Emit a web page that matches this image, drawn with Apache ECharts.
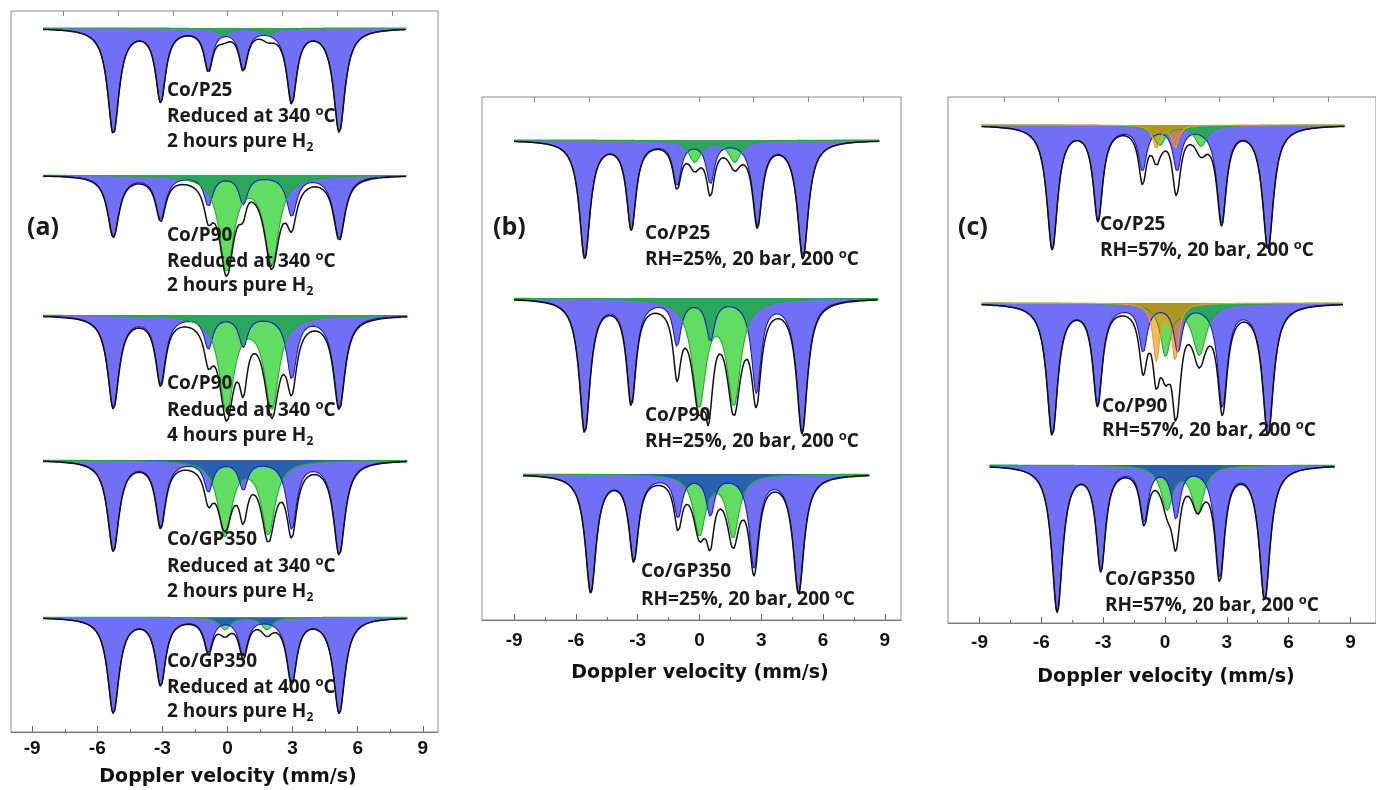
<!DOCTYPE html>
<html>
<head>
<meta charset="utf-8">
<script src="https://cdn.jsdelivr.net/npm/echarts@6/dist/echarts.min.js"></script>
<style>
html, body { margin: 0; padding: 0; background: #fff; }
#chart { width: 1376px; height: 790px; }
</style>
</head>
<body>
<div id="chart"></div>
<script>
// ---- values ----
// every absorption line is [velocity mm/s, depth (counts), half width mm/s]
var velocityTicks = [-9, -6, -3, 0, 3, 6, 9];
var minorTicks = [-7.5, -4.5, -1.5, 1.5, 4.5, 7.5];
var topTicksA = [-7.57, -5.05, -2.52, 0, 2.52, 5.05, 7.57];
var topTicksB = [-8, -5.33, 0, 2.63, 5.3, 7.95];
var topTicksC = [-7.82, -5.18, 0, 2.63, 5.24, 7.92];

// panel (a)
var a1Range = [-8.5, 8.25];
var a1Sextet = [[-5.26, 105, 0.32], [-3.08, 72, 0.28], [-0.88, 40, 0.24], [0.73, 39, 0.24], [2.96, 73, 0.28], [5.15, 103, 0.32]];
var a1Doublet = [[-0.19, 7, 0.35], [1.88, 7, 0.35]];
var a1Residual = [];

var a2Range = [-8.5, 8.25];
var a2Sextet = [[-5.26, 61, 0.32], [-3.08, 43, 0.28], [-0.88, 30, 0.24], [0.73, 28, 0.24], [2.96, 40, 0.28], [5.15, 63, 0.32]];
var a2Doublet = [[-0.04, 94, 0.4], [2.04, 87, 0.4]];
var a2Residual = [[0.85, -12, 0.3]];

var a3Range = [-8.5, 8.3];
var a3Sextet = [[-5.26, 92, 0.32], [-3.08, 67, 0.28], [-0.88, 32, 0.24], [0.73, 30, 0.24], [2.96, 62, 0.28], [5.15, 92, 0.32]];
var a3Doublet = [[-0.04, 95, 0.4], [2.04, 92, 0.4]];
var a3Residual = [[0.73, 22, 0.2]];

var a4Range = [-8.5, 8.3];
var a4Sextet = [[-5.26, 90, 0.32], [-3.08, 65, 0.28], [-0.88, 30, 0.24], [0.73, 28, 0.24], [2.96, 67, 0.28], [5.15, 93, 0.32]];
var a4Doublet = [[-0.12, 75, 0.38], [1.88, 73, 0.38]];
var a4Residual = [[-0.12, -13, 0.3], [0.73, 16, 0.22]];

var a5Range = [-8.5, 8.3];
var a5Sextet = [[-5.26, 99, 0.32], [-3.08, 69, 0.28], [-0.88, 34, 0.24], [0.73, 39, 0.24], [2.96, 67, 0.28], [5.15, 99, 0.32]];
var a5Doublet = [[-0.12, 13, 0.3], [1.82, 13, 0.3]];
var a5Residual = [];

// panel (b)
var b1Range = [-9.0, 8.75];
var b1Sextet = [[-5.57, 117, 0.32], [-3.31, 87, 0.28], [-1.09, 43, 0.24], [0.53, 41, 0.24], [2.81, 83, 0.28], [5.02, 117, 0.32]];
var b1Doublet = [[-0.23, 22, 0.35], [1.71, 22, 0.35]];
var b1Residual = [[0.53, 7, 0.2]];

var b2Range = [-9.0, 8.67];
var b2Sextet = [[-5.57, 133, 0.32], [-3.31, 103, 0.28], [-1.09, 45, 0.24], [0.53, 40, 0.24], [2.76, 92, 0.28], [4.98, 132, 0.32]];
var b2Doublet = [[-0.02, 105, 0.4], [1.67, 103, 0.4]];
var b2Residual = [[-1.09, 20, 0.2], [0.42, 36, 0.15], [-0.02, -8, 0.3]];

var b3Range = [-8.57, 8.26];
var b3Sextet = [[-5.28, 117, 0.32], [-3.19, 84, 0.28], [-1.04, 41, 0.24], [0.53, 39, 0.24], [2.65, 91, 0.28], [4.81, 117, 0.32]];
var b3Doublet = [[0.0, 60, 0.35], [1.63, 62, 0.35]];
var b3Residual = [[-1.04, 6, 0.2], [0.5, 12, 0.2], [0.0, -8, 0.3]];

// panel (c)
var c1Range = [-8.9, 8.72];
var c1Sextet = [[-5.47, 123, 0.32], [-3.25, 93, 0.28], [-1.09, 43, 0.24], [0.59, 43, 0.24], [2.75, 95, 0.28], [5.0, 123, 0.32]];
var c1Doublet = [[-0.26, 20, 0.35], [1.75, 21, 0.35]];
var c1Orange = [[-0.42, 23, 0.2], [0.5, 22, 0.2]];
var c1Residual = [[-0.3, -12, 0.3], [-1.09, 9, 0.2]];

var c2Range = [-8.9, 8.64];
var c2Sextet = [[-5.47, 131, 0.32], [-3.27, 99, 0.28], [-1.06, 46, 0.24], [0.63, 46, 0.24], [2.79, 102, 0.28], [5.0, 131, 0.32]];
var c2Doublet = [[0.03, 51, 0.3], [1.67, 51, 0.4]];
var c2Orange = [[-0.42, 56, 0.2], [0.5, 56, 0.2]];
var c2Residual = [[-1.06, 12, 0.2]];

var c3Range = [-8.51, 8.24];
var c3Sextet = [[-5.23, 145, 0.32], [-3.11, 102, 0.28], [-1.01, 53, 0.24], [0.54, 50, 0.24], [2.66, 110, 0.28], [4.84, 133, 0.32]];
var c3Doublet = [[0.1, 43, 0.35], [1.59, 47, 0.35]];
var c3Residual = [[0.5, 14, 0.2], [0.05, -10, 0.3], [1.6, -12, 0.35]];

// ---- layout ----
var panels = [
    {left: 11, top: 11, width: 427, height: 721, zero: 227.5, scale: 21.7, margin: 7, topTicks: topTicksA},
    {left: 482, top: 97, width: 419, height: 523, zero: 699.5, scale: 20.6, margin: 11, topTicks: topTicksB},
    {left: 948, top: 97, width: 432, height: 526, zero: 1167, scale: 20.8, margin: 10, topTicks: topTicksC}
];

var spectra = [
    {panel: 0, base: 28, range: a1Range, layers: [['sextet', a1Sextet], ['doublet', a1Doublet]], residual: a1Residual},
    {panel: 0, base: 175, range: a2Range, layers: [['sextet', a2Sextet], ['doublet', a2Doublet]], residual: a2Residual},
    {panel: 0, base: 315, range: a3Range, layers: [['sextet', a3Sextet], ['doublet', a3Doublet]], residual: a3Residual},
    {panel: 0, base: 460, range: a4Range, layers: [['doublet', a4Doublet], ['sextet', a4Sextet]], residual: a4Residual},
    {panel: 0, base: 618, range: a5Range, layers: [['doublet', a5Doublet], ['sextet', a5Sextet]], residual: a5Residual},
    {panel: 1, base: 140, range: b1Range, layers: [['sextet', b1Sextet], ['doublet', b1Doublet]], residual: b1Residual},
    {panel: 1, base: 298, range: b2Range, layers: [['sextet', b2Sextet], ['doublet', b2Doublet]], residual: b2Residual},
    {panel: 1, base: 474, range: b3Range, layers: [['doublet', b3Doublet], ['sextet', b3Sextet]], residual: b3Residual},
    {panel: 2, base: 125, range: c1Range, layers: [['sextet', c1Sextet], ['doublet', c1Doublet], ['orange', c1Orange]], residual: c1Residual},
    {panel: 2, base: 303, range: c2Range, layers: [['sextet', c2Sextet], ['doublet', c2Doublet], ['orange', c2Orange]], residual: c2Residual},
    {panel: 2, base: 465, range: c3Range, layers: [['doublet', c3Doublet], ['sextet', c3Sextet]], residual: c3Residual}
];

var notes = [
    {x: 167, y: [91, 116.5, 142], text: ['Co/P25', 'Reduced at 340 {sup|o}C', '2 hours pure H{sub|2}']},
    {x: 167, y: [236, 261.5, 286], text: ['Co/P90', 'Reduced at 340 {sup|o}C', '2 hours pure H{sub|2}']},
    {x: 167, y: [384, 411, 436], text: ['Co/P90', 'Reduced at 340 {sup|o}C', '4 hours pure H{sub|2}']},
    {x: 167, y: [540, 566.5, 592], text: ['Co/GP350', 'Reduced at 340 {sup|o}C', '2 hours pure H{sub|2}']},
    {x: 167, y: [661.5, 688, 712], text: ['Co/GP350', 'Reduced at 400 {sup|o}C', '2 hours pure H{sub|2}']},
    {x: 645, y: [234, 260], text: ['Co/P25', 'RH=25%, 20 bar, 200 {sup|o}C']},
    {x: 645, y: [416, 442], text: ['Co/P90', 'RH=25%, 20 bar, 200 {sup|o}C']},
    {x: 641, y: [571.5, 599.5], text: ['Co/GP350', 'RH=25%, 20 bar, 200 {sup|o}C']},
    {x: 1100, y: [225, 250.5], text: ['Co/P25', 'RH=57%, 20 bar, 200 {sup|o}C']},
    {x: 1102, y: [406.5, 430.5], text: ['Co/P90', 'RH=57%, 20 bar, 200 {sup|o}C']},
    {x: 1105, y: [580, 605.5], text: ['Co/GP350', 'RH=57%, 20 bar, 200 {sup|o}C']}
];

var panelTags = [
    {x: 27, y: 228, text: '(a)'},
    {x: 493, y: 228, text: '(b)'},
    {x: 958, y: 228, text: '(c)'}
];
var axisTitles = [
    {x: 228, y: 777},
    {x: 700, y: 673},
    {x: 1166, y: 677}
];

var styles = {
    sextet: {area: 'rgba(0,0,235,0.56)', line: '#1c1cc6'},
    doublet: {area: 'rgba(0,200,0,0.62)', line: '#22ad2a'},
    orange: {area: 'rgba(255,140,0,0.62)', line: '#f29a22'}
};

function absorption(lines, v) {
    var s = 0;
    for (var i = 0; i < lines.length; i++) {
        var t = (v - lines[i][0]) / lines[i][2];
        s += lines[i][1] / (1 + t * t);
    }
    return s;
}

function profile(lineSets, range) {
    var pts = [];
    var n = Math.round((range[1] - range[0]) / 0.02);
    for (var i = 0; i <= n; i++) {
        var v = range[0] + (range[1] - range[0]) * i / n;
        var d = 0;
        for (var k = 0; k < lineSets.length; k++) d += absorption(lineSets[k], v);
        pts.push([v, d]);
    }
    return pts;
}

var grids = [], xAxes = [], yAxes = [], series = [], graphics = [];

panels.forEach(function (p) {
    var vmin = (p.left - p.zero) / p.scale;
    var vmax = (p.left + p.width - p.zero) / p.scale;
    p.vmin = vmin; p.vmax = vmax;
    grids.push({left: p.left, top: p.top, width: p.width, height: p.height,
        show: true, borderColor: '#8a8a8a', borderWidth: 1, backgroundColor: 'transparent'});
    var g = grids.length - 1;
    xAxes.push({gridIndex: g, type: 'value', min: vmin, max: vmax, position: 'bottom',
        axisLine: {show: true, lineStyle: {color: '#7a7a7a', width: 1}},
        axisTick: {show: true, inside: true, length: 6, customValues: velocityTicks, lineStyle: {color: '#666'}},
        axisLabel: {show: true, customValues: velocityTicks, margin: p.margin, color: '#111',
            fontFamily: 'Liberation Sans', fontWeight: 'bold', fontSize: 19},
        splitLine: {show: false}});
    xAxes.push({gridIndex: g, type: 'value', min: vmin, max: vmax, position: 'bottom',
        axisLine: {show: false},
        axisTick: {show: true, inside: true, length: 3, customValues: minorTicks, lineStyle: {color: '#777'}},
        axisLabel: {show: false}, splitLine: {show: false}});
    xAxes.push({gridIndex: g, type: 'value', min: vmin, max: vmax, position: 'top',
        axisLine: {show: false},
        axisTick: {show: true, inside: true, length: 5, customValues: p.topTicks, lineStyle: {color: '#888'}},
        axisLabel: {show: false}, splitLine: {show: false}});
    yAxes.push({gridIndex: g, type: 'value', show: false, min: 0, max: 1});
});

spectra.forEach(function (s) {
    var p = panels[s.panel];
    grids.push({left: p.left, width: p.width, top: s.base - 20, height: 200});
    var g = grids.length - 1;
    xAxes.push({gridIndex: g, type: 'value', show: false, min: p.vmin, max: p.vmax});
    yAxes.push({gridIndex: g, type: 'value', show: false, min: -20, max: 180, inverse: true});
    var xi = xAxes.length - 1, yi = yAxes.length - 1;
    var all = [];
    s.layers.forEach(function (layer) {
        var st = styles[layer[0]];
        all.push(layer[1]);
        series.push({type: 'line', xAxisIndex: xi, yAxisIndex: yi, showSymbol: false, silent: true,
            data: profile([layer[1]], s.range), clip: false,
            lineStyle: {color: st.line, width: 1.1},
            areaStyle: {color: st.area, opacity: 1, origin: 'auto'}});
    });
    all.push(s.residual);
    series.push({type: 'line', xAxisIndex: xi, yAxisIndex: yi, showSymbol: false, silent: true,
        data: profile(all, s.range), clip: false,
        lineStyle: {color: '#111', width: 1.5}});
});

var rich = {
    n: {fontFamily: 'Open Sans', fontWeight: 'bold', fontSize: 19, fill: '#1a1a1a', lineHeight: 24, verticalAlign: 'middle'},
    sup: {fontFamily: 'Open Sans', fontWeight: 'bold', fontSize: 13, fill: '#1a1a1a', lineHeight: 14, verticalAlign: 'top'},
    sub: {fontFamily: 'Open Sans', fontWeight: 'bold', fontSize: 12, fill: '#1a1a1a', lineHeight: 14, verticalAlign: 'bottom'}
};

notes.forEach(function (n) {
    n.text.forEach(function (t, i) {
        var parts = t.split(/(\{su[pb]\|[^}]*\})/).filter(function (x) { return x.length; });
        var txt = parts.map(function (x) { return x.charAt(0) === '{' ? x : '{n|' + x + '}'; }).join('');
        graphics.push({type: 'text', x: n.x, y: n.y[i], z: 50,
            style: {text: txt, rich: rich, fontFamily: 'Open Sans', fontWeight: 'bold',
                fontSize: 19, fill: '#1a1a1a', align: 'left', verticalAlign: 'middle'}});
    });
});

panelTags.forEach(function (t) {
    graphics.push({type: 'text', x: t.x, y: t.y, z: 50,
        style: {text: t.text, fontFamily: 'Open Sans', fontWeight: 'bold', fontSize: 25,
            fill: '#1a1a1a', align: 'left', verticalAlign: 'middle'}});
});

axisTitles.forEach(function (t) {
    graphics.push({type: 'text', x: t.x, y: t.y, z: 50,
        style: {text: 'Doppler velocity (mm/s)', fontFamily: 'DejaVu Sans', fontWeight: 'bold', fontSize: 19,
            fill: '#111', align: 'center', verticalAlign: 'middle'}});
});

var chart = echarts.init(document.getElementById('chart'));
chart.setOption({
    animation: false,
    backgroundColor: '#fff',
    grid: grids,
    xAxis: xAxes,
    yAxis: yAxes,
    series: series,
    graphic: graphics
});
</script>
</body>
</html>
